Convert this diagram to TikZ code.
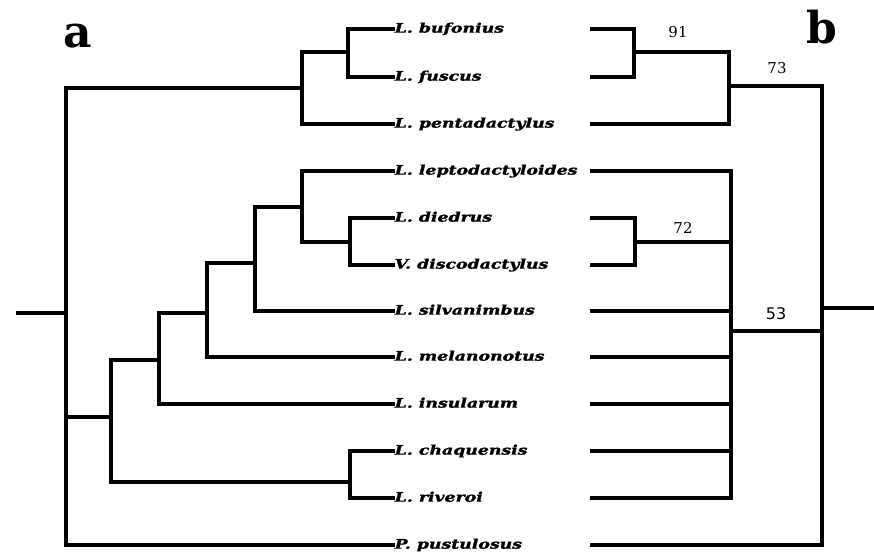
\documentclass[tikz,border=0pt]{standalone}
\usepackage{fontspec}
\usepackage{graphicx}
\setmainfont{DejaVu Serif}
\newfontfamily\numsans{DejaVu Sans}
\newfontfamily\taxonfont[UprightFont={* Bold Italic},FakeBold=1.3]{DejaVu Serif}
\newcommand{\taxname}[1]{\scalebox{1.31}[1]{\taxonfont #1}}
\begin{document}
\begin{tikzpicture}[x=1pt,y=-1pt,
  branch/.style={line width=3.6pt, line cap=rect},
  taxon/.style={anchor=west, inner xsep=1.5pt, inner ysep=0pt, text height=0.73em, text depth=0pt,
    font=\fontsize{13.2}{15}\selectfont},
  support/.style={font=\fontsize{15}{17}\selectfont, inner sep=0pt},
  panel/.style={font=\fontsize{44}{48}\selectfont\bfseries, inner sep=0pt}]
\useasboundingbox (0,0) rectangle (874,556);

% taxon labels
\node[taxon] (t1)  at (393,29)  {\taxname{L. bufonius}};
\node[taxon] (t2)  at (393,77)  {\taxname{L. fuscus}};
\node[taxon] (t3)  at (393,124) {\taxname{L. pentadactylus}};
\node[taxon] (t4)  at (393,171) {\taxname{L. leptodactyloides}};
\node[taxon] (t5)  at (393,218) {\taxname{L. diedrus}};
\node[taxon] (t6)  at (393,265) {\taxname{V. discodactylus}};
\node[taxon] (t7)  at (393,311) {\taxname{L. silvanimbus}};
\node[taxon] (t8)  at (393,357) {\taxname{L. melanonotus}};
\node[taxon] (t9)  at (393,404) {\taxname{L. insularum}};
\node[taxon] (t10) at (393,451) {\taxname{L. chaquensis}};
\node[taxon] (t11) at (393,498) {\taxname{L. riveroi}};
\node[taxon] (t12) at (393,545) {\taxname{P. pustulosus}};

% panel letters
\node[panel] (pa) at (78,36) {a};
\node[panel] (pb) at (821.5,27.5) {b};

% tree a: internal nodes
\coordinate (a-bf)   at (348,52);
\coordinate (a-bfp)  at (302,88);
\coordinate (a-root) at (66,313);
\coordinate (a-stub) at (18,313);
\coordinate (a-dd)   at (350,242);
\coordinate (a-n1)   at (302,207);
\coordinate (a-n2)   at (255,263);
\coordinate (a-n3)   at (207,313);
\coordinate (a-n4)   at (159,360);
\coordinate (a-cr)   at (350,482);
\coordinate (a-big)  at (111,417);

\draw[branch] (a-stub) -- (a-root);
\draw[branch] (a-root) |- (a-bfp);
\draw[branch] (a-root) |- (a-big);
\draw[branch] (a-root) |- (t12.west);
\draw[branch] (a-bfp) |- (a-bf);
\draw[branch] (a-bfp) |- (t3.west);
\draw[branch] (a-bf) |- (t1.west);
\draw[branch] (a-bf) |- (t2.west);
\draw[branch] (a-big) |- (a-n4);
\draw[branch] (a-big) |- (a-cr);
\draw[branch] (a-n4) |- (a-n3);
\draw[branch] (a-n4) |- (t9.west);
\draw[branch] (a-n3) |- (a-n2);
\draw[branch] (a-n3) |- (t8.west);
\draw[branch] (a-n2) |- (a-n1);
\draw[branch] (a-n2) |- (t7.west);
\draw[branch] (a-n1) |- (t4.west);
\draw[branch] (a-n1) |- (a-dd);
\draw[branch] (a-dd) |- (t5.west);
\draw[branch] (a-dd) |- (t6.west);
\draw[branch] (a-cr) |- (t10.west);
\draw[branch] (a-cr) |- (t11.west);

% tree b: tip ends
\foreach \i/\y in {1/29,2/77,3/124,4/171,5/218,6/265,7/311,8/357,9/404,10/451,11/498,12/545}
  \coordinate (b\i) at (592,\y);
\coordinate (b-bf)   at (634,52);
\coordinate (b-bfp)  at (729,86);
\coordinate (b-dd)   at (635,242);
\coordinate (b-big)  at (731,331);
\coordinate (b-root) at (822,308);
\coordinate (b-stub) at (874,308);

\draw[branch] (b-root) -- (b-stub);
\draw[branch] (b-root) |- (b-bfp);
\draw[branch] (b-root) |- (b-big);
\draw[branch] (b-root) |- (b12);
\draw[branch] (b-bfp) |- (b-bf);
\draw[branch] (b-bfp) |- (b3);
\draw[branch] (b-bf) |- (b1);
\draw[branch] (b-bf) |- (b2);
\draw[branch] (b-big) |- (b4);
\draw[branch] (b-big) |- (b-dd);
\foreach \i in {7,8,9,10,11}
  \draw[branch] (b-big) |- (b\i);
\draw[branch] (b-dd) |- (b5);
\draw[branch] (b-dd) |- (b6);

% support values
\node[support] (s91) at (678,32.5) {91};
\node[support] (s73) at (777,68)  {73};
\node[support] (s72) at (683,228) {72};
\node[support,font=\numsans\fontsize{16}{18}\selectfont] (s53) at (776,314) {53};
\end{tikzpicture}
\end{document}
